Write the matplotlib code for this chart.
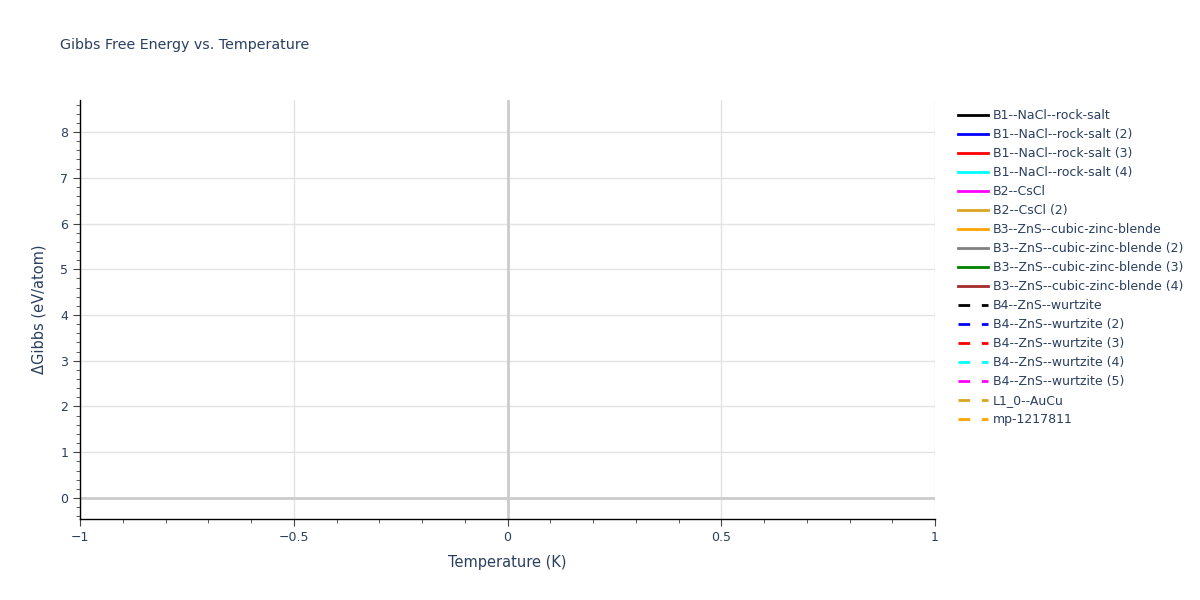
import matplotlib
matplotlib.use("Agg")
import matplotlib.pyplot as plt
from matplotlib.ticker import MultipleLocator, FuncFormatter
from matplotlib.lines import Line2D

# Traces (all empty in the reference: no points are drawn)
names = [
    "B1--NaCl--rock-salt", "B1--NaCl--rock-salt (2)", "B1--NaCl--rock-salt (3)",
    "B1--NaCl--rock-salt (4)", "B2--CsCl", "B2--CsCl (2)",
    "B3--ZnS--cubic-zinc-blende", "B3--ZnS--cubic-zinc-blende (2)",
    "B3--ZnS--cubic-zinc-blende (3)", "B3--ZnS--cubic-zinc-blende (4)",
    "B4--ZnS--wurtzite", "B4--ZnS--wurtzite (2)", "B4--ZnS--wurtzite (3)",
    "B4--ZnS--wurtzite (4)", "B4--ZnS--wurtzite (5)", "L1_0--AuCu", "mp-1217811",
]
colors = [
    "black", "blue", "red", "cyan", "magenta", "goldenrod", "orange", "grey",
    "green", "brown", "black", "blue", "red", "cyan", "magenta", "goldenrod", "orange",
]
dashed = [False] * 10 + [True] * 7
temperature = [[] for _ in names]
gibbs = [[] for _ in names]

txt = "#2a3f5f"
fig = plt.figure(figsize=(12, 6), dpi=100)
ax = fig.add_axes([80 / 1200, 1 - 519 / 600, 855 / 1200, 419 / 600])

handles = []
for n, c, d, x, y in zip(names, colors, dashed, temperature, gibbs):
    ls = (0, (4.2, 4.2)) if d else "-"
    ax.plot(x, y, color=c, lw=2, ls=ls, label=n)
    handles.append(Line2D([], [], color=c, lw=2, ls=ls))

ax.set_xlim(-1, 1)
ax.set_ylim(-0.46, 8.70)
ax.xaxis.set_major_locator(MultipleLocator(0.5))
ax.xaxis.set_minor_locator(MultipleLocator(0.1))
ax.yaxis.set_major_locator(MultipleLocator(1))
ax.yaxis.set_minor_locator(MultipleLocator(0.2))
ax.xaxis.set_major_formatter(FuncFormatter(lambda v, p: "0" if abs(v) < 1e-9 else f"{v:g}".replace("-", "\u2212")))
ax.yaxis.set_major_formatter(FuncFormatter(lambda v, p: f"{v:g}".replace("-", "\u2212")))

ax.grid(True, which="major", color="#e3e3e3", lw=1)
ax.axhline(0, color="#cccccc", lw=2, zorder=1)
ax.axvline(0, color="#cccccc", lw=2, zorder=1)
for s in ["top", "right"]:
    ax.spines[s].set_visible(False)
for s in ["left", "bottom"]:
    ax.spines[s].set_color("black")
    ax.spines[s].set_linewidth(1)
ax.tick_params(which="major", direction="out", length=5, color="#444444", labelsize=9, labelcolor=txt)
ax.tick_params(which="minor", direction="out", length=3, color="#444444")
ax.set_axisbelow(True)

ax.set_xlabel("Temperature (K)", fontsize=10.5, color=txt, labelpad=8)
ax.set_ylabel("\u0394Gibbs (eV/atom)", fontsize=10.5, color=txt, labelpad=10)
fig.text(60 / 1200, 1 - 45 / 600, "Gibbs Free Energy vs. Temperature", fontsize=10.3, color=txt, va="center")

fig.legend(handles, names, loc="upper left", bbox_to_anchor=(958 / 1200, 1 - 109 / 600),
           frameon=False, fontsize=9, labelcolor=txt, handlelength=2.4,
           handletextpad=0.4, labelspacing=0.48, borderaxespad=0, borderpad=0)

fig.savefig("out.png", dpi=100)
